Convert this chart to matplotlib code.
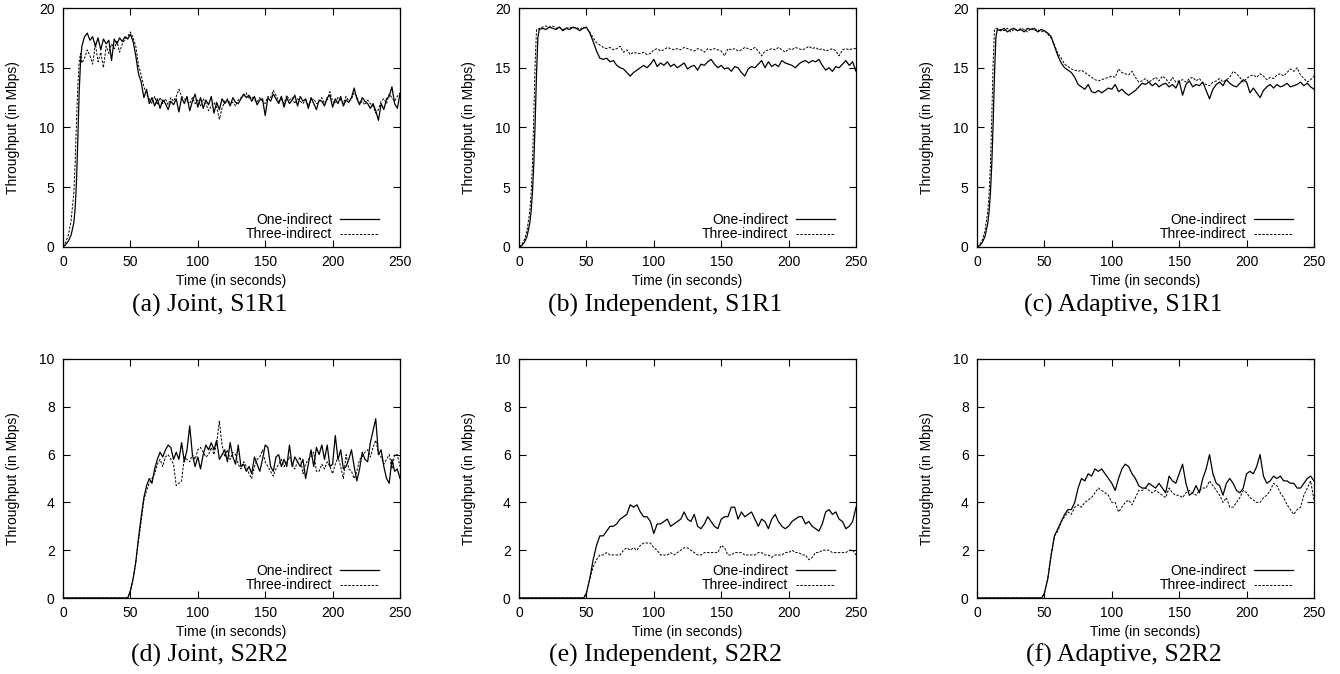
import matplotlib
matplotlib.use("Agg")
import matplotlib.pyplot as plt
import numpy as np

plt.rcParams['font.family'] = ['Liberation Sans', 'DejaVu Sans']

# time grids (seconds)
t_a = [0, 2, 4, 6, 8, 9, 10, 11, 12, 13, 14] + list(range(16, 251, 2))
t_top = [0, 2, 4, 6, 8, 9, 10, 11, 12, 13, 14] + list(np.arange(15, 251, 2.5))
t_d = [0, 48] + list(range(50, 251, 2))
t_bot = [0, 48] + list(np.arange(50, 251, 2.5))

### (a) Joint, S1R1
joint_s1_one = [0.0, 0.2, 0.5, 1.0, 2.0, 3.2, 5.5, 9.0, 13.0, 15.5, 16.8,
                17.6, 17.9, 17.3, 17.6, 16.8, 17.5, 16.5, 17.4, 17.0, 17.3,
                15.6, 17.4, 17.0, 17.5, 17.2, 17.6, 17.4, 17.8, 17.2, 16.0,
                14.5, 13.8, 12.5, 13.2, 12.0, 12.5, 11.8, 12.4, 11.6, 12.3,
                12.0, 11.5, 12.2, 11.9, 12.4, 11.3, 12.5, 12.0, 12.6, 11.4,
                12.2, 12.8, 11.7, 12.5, 11.6, 12.3, 11.9, 12.6, 11.2, 12.1,
                11.5, 12.4, 12.0, 12.3, 11.8, 12.5, 12.1, 12.0, 12.4, 12.8,
                12.5, 12.7, 12.2, 12.6, 11.9, 12.3, 12.4, 11.0, 12.5, 12.2,
                12.8, 12.4, 12.0, 12.6, 11.7, 12.5, 12.0, 12.3, 12.7, 11.8,
                12.6, 12.2, 12.4, 11.6, 12.5, 12.0, 11.5, 12.3, 12.2, 11.8,
                12.5, 12.7, 11.7, 12.4, 12.0, 12.6, 11.8, 12.3, 12.1, 12.5,
                13.3, 12.4, 11.9, 12.5, 12.2, 12.0, 11.6, 12.0, 11.4, 10.6,
                12.0, 11.5, 12.4, 12.6, 13.4, 12.0, 11.6, 12.8]
joint_s1_three = [0.0, 0.4, 1.0, 2.2, 4.5, 7.0, 10.5, 13.5, 15.5, 16.2, 15.4,
                  15.8, 16.5, 16.0, 15.3, 17.0, 15.5, 16.3, 15.0, 16.8, 16.2,
                  17.0, 16.6, 17.2, 16.3, 17.0, 17.4, 17.6, 18.0, 17.5, 16.8,
                  15.2, 14.4, 13.4, 12.8, 12.4, 12.0, 12.6, 11.9, 12.5, 12.0,
                  12.4, 11.9, 12.5, 12.2, 12.6, 13.2, 12.6, 12.4, 12.2, 12.0,
                  12.5, 12.0, 12.3, 11.8, 12.4, 12.0, 11.4, 11.8, 12.1, 11.7,
                  10.7, 11.6, 12.2, 12.4, 12.0, 12.1, 11.8, 12.3, 12.5, 12.6,
                  12.9, 12.4, 12.6, 12.3, 12.1, 12.5, 12.2, 12.0, 12.6, 12.5,
                  13.1, 12.7, 12.2, 12.4, 12.0, 12.7, 12.3, 12.5, 12.0, 12.4,
                  12.2, 12.0, 12.3, 11.9, 12.2, 12.4, 12.0, 12.1, 12.5, 12.0,
                  12.3, 13.0, 12.2, 12.0, 12.5, 12.3, 12.0, 12.6, 12.2, 12.4,
                  12.9, 12.6, 12.0, 12.2, 11.9, 12.3, 12.0, 11.8, 11.2, 11.5,
                  12.2, 12.4, 12.0, 12.8, 12.5, 12.2, 12.6, 12.9]

### (b) Independent, S1R1
indep_s1_one = [0.0, 0.1, 0.4, 0.9, 2.0, 3.0, 4.6, 7.0, 10.5, 14.5, 17.5,
                18.2, 18.3, 18.2, 18.4, 18.3, 18.2, 18.4, 18.1, 18.3, 18.2,
                18.4, 18.3, 18.1, 18.3, 18.4, 17.9, 17.2, 16.4, 15.8, 15.7,
                15.8, 15.5, 15.6, 15.2, 15.0, 14.9, 14.6, 14.3, 14.6, 14.8,
                15.0, 15.2, 15.0, 15.3, 15.7, 15.1, 15.4, 15.2, 15.5, 15.1,
                15.3, 15.0, 15.2, 15.4, 14.9, 15.1, 15.2, 14.8, 15.3, 15.2,
                15.5, 15.7, 15.3, 15.0, 15.2, 14.9, 15.0, 14.7, 15.1, 15.0,
                14.6, 14.3, 14.9, 15.1, 15.0, 15.3, 15.6, 15.0, 15.5, 15.1,
                15.3, 15.1, 15.6, 15.4, 15.3, 15.2, 15.0, 15.3, 15.5, 15.6,
                15.4, 15.6, 15.5, 15.7, 15.2, 14.8, 15.0, 14.7, 15.1, 15.0,
                15.3, 15.6, 15.2, 15.5, 14.7]
indep_s1_three = [0.0, 0.2, 0.6, 1.4, 3.0, 4.5, 7.0, 11.0, 15.5, 18.2, 18.2,
                  18.3, 18.4, 18.5, 18.4, 18.5, 18.3, 18.4, 18.2, 18.3, 18.4,
                  18.3, 18.4, 18.2, 18.4, 18.3, 18.0, 17.5, 17.1, 16.9, 16.7,
                  16.6, 16.7, 16.5, 16.6, 16.8, 16.3, 16.5, 16.1, 16.3, 16.2,
                  16.2, 16.3, 16.1, 16.2, 16.5, 16.6, 16.4, 16.5, 16.7, 16.6,
                  16.5, 16.6, 16.5, 16.7, 16.6, 16.5, 16.4, 16.6, 16.5, 16.3,
                  16.6, 16.5, 16.6, 16.5, 16.4, 16.0, 16.6, 16.5, 16.6, 16.4,
                  16.5, 16.7, 16.6, 16.5, 16.7, 16.4, 16.0, 16.4, 16.5, 16.6,
                  16.5, 16.7, 16.5, 16.3, 16.6, 16.5, 16.7, 16.6, 16.5, 16.6,
                  16.8, 16.6, 16.7, 16.5, 16.6, 16.4, 16.5, 16.6, 16.4, 16.0,
                  16.5, 16.6, 16.5, 16.6, 16.6]

### (c) Adaptive, S1R1
adapt_s1_one = [0.0, 0.1, 0.4, 0.9, 2.0, 3.0, 4.6, 7.0, 10.5, 14.5, 17.5,
                18.2, 18.1, 18.3, 18.0, 18.2, 18.3, 18.1, 18.2, 18.0, 18.3,
                18.2, 18.3, 18.0, 18.2, 18.1, 17.9, 17.6, 16.8, 16.0, 15.4,
                15.0, 14.8, 14.6, 14.2, 13.6, 13.4, 13.2, 13.6, 13.0, 12.9,
                13.1, 12.9, 13.1, 13.3, 13.2, 13.6, 13.0, 13.2, 12.9, 12.7,
                12.9, 13.1, 13.4, 13.7, 13.6, 13.8, 13.5, 13.7, 13.4, 13.6,
                13.7, 13.4, 13.6, 13.3, 13.9, 12.7, 13.6, 13.9, 13.4, 13.6,
                13.5, 13.8, 13.1, 12.4, 13.2, 13.6, 13.8, 13.5, 14.0, 13.7,
                13.5, 13.4, 13.7, 14.0, 13.8, 12.9, 13.3, 12.9, 12.5, 13.1,
                13.4, 13.6, 13.3, 13.6, 13.4, 13.5, 13.7, 13.4, 13.5, 13.6,
                13.8, 13.5, 13.7, 13.4, 13.2]
adapt_s1_three = [0.0, 0.2, 0.6, 1.4, 3.0, 4.5, 7.0, 11.0, 15.5, 18.2, 18.3,
                  18.3, 18.2, 18.1, 18.3, 18.0, 18.2, 18.1, 18.3, 18.2, 18.0,
                  18.3, 18.1, 18.2, 18.0, 18.1, 17.8, 17.5, 16.9, 16.2, 15.8,
                  15.3, 15.1, 14.9, 14.8, 14.7, 14.8, 14.6, 14.4, 14.2, 14.0,
                  13.9, 14.0, 14.1, 14.2, 14.3, 14.2, 14.9, 14.6, 14.5, 14.4,
                  14.7, 14.2, 13.8, 13.9, 14.1, 13.8, 14.0, 14.2, 13.9, 14.3,
                  14.1, 13.7, 14.2, 13.8, 13.9, 14.0, 13.8, 14.1, 14.2, 13.9,
                  14.1, 13.7, 13.6, 13.5, 13.8, 13.9, 14.1, 13.8, 14.0, 14.2,
                  14.7, 14.5, 14.2, 13.8, 14.1, 14.3, 14.4, 14.2, 14.5, 14.3,
                  14.0, 14.2, 14.1, 14.4, 14.5, 14.3, 14.6, 14.9, 14.7, 15.0,
                  14.4, 14.1, 13.8, 14.0, 14.3]

### (d) Joint, S2R2
joint_s2_one = [0.0, 0.0,
                0.3, 0.8, 1.5, 2.5, 3.4, 4.2, 4.7, 5.0, 4.8, 5.4,
                5.8, 6.1, 5.9, 6.2, 6.4, 6.3, 5.8, 6.1, 5.8, 6.5,
                5.7, 6.2, 7.2, 6.0, 5.5, 5.9, 5.4, 6.0, 6.4, 6.2,
                6.5, 6.2, 6.6, 5.8, 6.0, 6.2, 5.7, 6.5, 5.9, 5.6,
                6.4, 5.5, 5.6, 5.3, 5.5, 5.2, 5.9, 5.6, 5.3, 5.8,
                6.4, 6.3, 5.5, 5.3, 5.9, 6.0, 5.5, 5.8, 5.5, 6.4,
                5.5, 5.9, 5.7, 5.5, 5.8, 5.0, 5.6, 6.2, 5.5, 6.3,
                6.0, 6.4, 5.8, 6.4, 5.5, 5.6, 6.8, 5.8, 6.2, 5.4,
                5.5, 5.8, 6.2, 5.5, 4.9, 5.4, 6.1, 5.8, 5.7, 6.5,
                7.0, 7.5, 6.0, 6.2, 5.5, 5.0, 4.8, 5.8, 5.3, 5.4,
                5.0]
joint_s2_three = [0.0, 0.0,
                  0.3, 0.8, 1.5, 2.4, 3.2, 4.1, 4.5, 4.8, 5.0, 5.2,
                  5.6, 5.8, 5.5, 5.9, 6.0, 5.8, 5.6, 4.7, 4.8, 4.9,
                  5.9, 5.8, 5.7, 6.0, 5.8, 6.2, 6.3, 6.1, 5.9, 6.0,
                  6.3, 6.0, 6.5, 7.4, 6.4, 5.9, 6.2, 5.8, 6.1, 6.0,
                  5.6, 5.4, 5.7, 5.5, 5.2, 5.0, 5.5, 5.8, 5.9, 6.2,
                  5.7, 5.5, 5.3, 5.1, 5.4, 5.6, 5.8, 5.5, 5.7, 5.9,
                  5.6, 5.4, 5.7, 5.9, 5.2, 5.6, 5.8, 5.9, 6.1, 5.3,
                  5.3, 5.6, 5.4, 5.7, 5.5, 5.2, 5.6, 5.9, 5.5, 5.0,
                  6.0, 5.4, 5.3, 5.0, 5.3, 5.8, 5.9, 6.1, 6.2, 5.9,
                  6.3, 6.6, 6.1, 5.9, 5.6, 5.8, 6.0, 5.4, 6.0, 6.0,
                  5.5]

### (e) Independent, S2R2
indep_s2_one = [0.0, 0.0,
                0.2, 0.8, 1.6, 2.2, 2.6, 2.6, 2.8, 3.0, 3.0, 3.1,
                3.3, 3.4, 3.5, 3.9, 3.8, 3.9, 3.6, 3.4, 3.4, 3.2,
                2.7, 3.1, 3.1, 3.2, 3.3, 3.0, 3.1, 3.2, 3.3, 3.6,
                3.3, 3.2, 3.5, 3.0, 2.9, 3.1, 3.4, 3.2, 3.0, 2.9,
                3.3, 3.4, 3.4, 3.8, 3.8, 3.3, 3.6, 3.4, 3.5, 3.6,
                3.3, 3.0, 3.3, 3.2, 2.9, 3.3, 3.5, 3.2, 3.0, 2.9,
                3.0, 3.2, 3.3, 3.4, 3.4, 3.1, 3.2, 3.0, 2.9, 2.8,
                3.1, 3.6, 3.7, 3.5, 3.6, 3.3, 3.2, 2.9, 3.0, 3.2,
                3.8]
indep_s2_three = [0.0, 0.0,
                  0.2, 0.8, 1.3, 1.6, 1.8, 1.8, 1.9, 1.8, 1.8, 1.8,
                  1.8, 2.0, 2.1, 2.0, 2.1, 2.0, 2.2, 2.3, 2.3, 2.3,
                  2.1, 2.0, 1.8, 1.8, 1.8, 1.9, 1.8, 1.9, 2.0, 2.1,
                  2.1, 2.0, 1.9, 1.8, 1.8, 1.9, 1.9, 1.9, 1.9, 1.9,
                  2.2, 2.1, 1.8, 1.8, 1.9, 1.9, 1.9, 1.8, 1.8, 1.8,
                  1.8, 1.9, 1.9, 1.8, 1.8, 1.7, 1.8, 1.8, 1.8, 1.9,
                  1.9, 2.0, 1.9, 1.9, 1.8, 1.8, 1.6, 1.7, 1.9, 1.9,
                  2.0, 2.0, 2.0, 1.9, 1.9, 1.9, 1.9, 1.9, 2.0, 2.0,
                  1.8]

### (f) Adaptive, S2R2
adapt_s2_one = [0.0, 0.0,
                0.2, 0.8, 1.8, 2.6, 2.9, 3.2, 3.5, 3.7, 3.7, 4.0,
                4.6, 5.0, 4.9, 5.2, 5.1, 5.4, 5.3, 5.4, 5.2, 5.0,
                4.8, 4.5, 5.0, 5.4, 5.6, 5.5, 5.2, 5.0, 4.7, 4.6,
                4.6, 4.8, 4.7, 4.6, 4.8, 4.6, 4.4, 5.1, 4.9, 4.8,
                5.2, 5.6, 4.8, 4.3, 4.4, 4.7, 4.4, 5.0, 5.4, 6.0,
                5.2, 4.8, 4.7, 4.3, 4.8, 5.0, 4.8, 4.5, 4.4, 4.6,
                5.2, 5.3, 5.2, 5.5, 6.0, 5.1, 4.8, 4.9, 5.1, 5.0,
                5.1, 4.9, 4.9, 4.8, 4.8, 4.6, 4.6, 4.8, 5.0, 5.1,
                4.9]
adapt_s2_three = [0.0, 0.0,
                  0.2, 0.8, 1.8, 2.6, 2.8, 3.2, 3.4, 3.6, 3.5, 3.8,
                  3.9, 3.8, 4.0, 4.1, 4.2, 4.4, 4.6, 4.5, 4.4, 4.3,
                  4.0, 4.0, 3.6, 3.8, 4.0, 4.1, 3.9, 4.2, 4.5, 4.5,
                  4.6, 4.5, 4.4, 4.5, 4.4, 4.3, 4.2, 4.6, 4.4, 4.3,
                  4.3, 4.2, 4.4, 4.5, 4.4, 4.3, 4.5, 4.6, 4.6, 4.9,
                  4.7, 4.5, 4.3, 4.0, 4.2, 3.8, 3.8, 4.0, 4.2, 4.5,
                  4.4, 4.2, 4.1, 4.0, 4.0, 4.2, 4.3, 4.5, 4.8, 4.7,
                  4.4, 4.2, 3.9, 3.7, 3.5, 3.7, 3.8, 4.3, 4.6, 4.9,
                  4.1]

captions = ['(a) Joint, S1R1', '(b) Independent, S1R1', '(c) Adaptive, S1R1',
            '(d) Joint, S2R2', '(e) Independent, S2R2', '(f) Adaptive, S2R2']

panels = [
    (t_a, joint_s1_one, joint_s1_three, 20, 5),
    (t_top, indep_s1_one, indep_s1_three, 20, 5),
    (t_top, adapt_s1_one, adapt_s1_three, 20, 5),
    (t_d, joint_s2_one, joint_s2_three, 10, 2),
    (t_bot, indep_s2_one, indep_s2_three, 10, 2),
    (t_bot, adapt_s2_one, adapt_s2_three, 10, 2),
]

###

fig = plt.figure(figsize=(13.4, 6.74), dpi=100)

lefts = [63, 519, 977]
tops = [8, 359]
w, h = 337, 239

for i, (t, one, three, ymax, ystep) in enumerate(panels):
    row, col = divmod(i, 3)
    ax = fig.add_axes([lefts[col] / 1340, 1 - (tops[row] + h) / 674, w / 1340, h / 674])

    ax.plot(t, one, color='k', lw=0.9, label='One-indirect')
    ax.plot(t, three, color='k', lw=0.7, dashes=(2.5, 1.5), label='Three-indirect')

    ax.set_xlim(0, 250)
    ax.set_ylim(0, ymax)
    ax.set_xticks(range(0, 251, 50))
    ax.set_yticks(range(0, ymax + 1, ystep))
    ax.tick_params(direction='in', top=True, right=True, length=5, width=0.8,
                   labelsize=10, pad=6)
    for s in ax.spines.values():
        s.set_linewidth(0.9)

    ax.set_xlabel('Time (in seconds)', fontsize=10)
    ax.set_ylabel('Throughput (in Mbps)', fontsize=10)
    ax.xaxis.set_label_coords(0.5, -0.115)
    ax.yaxis.set_label_coords(-0.128, 0.5)

    ax.legend(loc='lower right', bbox_to_anchor=(0.955, 0.0), frameon=False,
              markerfirst=False, fontsize=10, handlelength=2.8,
              handletextpad=0.6, labelspacing=0.05, borderaxespad=0.2,
              borderpad=0.2)

    cx = (lefts[col] + w / 2 - 22) / 1340
    cy = 1 - (305 if row == 0 else 655) / 674
    fig.text(cx, cy, captions[i], ha='center', va='center', fontsize=18.5,
             family=['Liberation Serif', 'DejaVu Serif'])

plt.savefig('out.png', dpi=100)
